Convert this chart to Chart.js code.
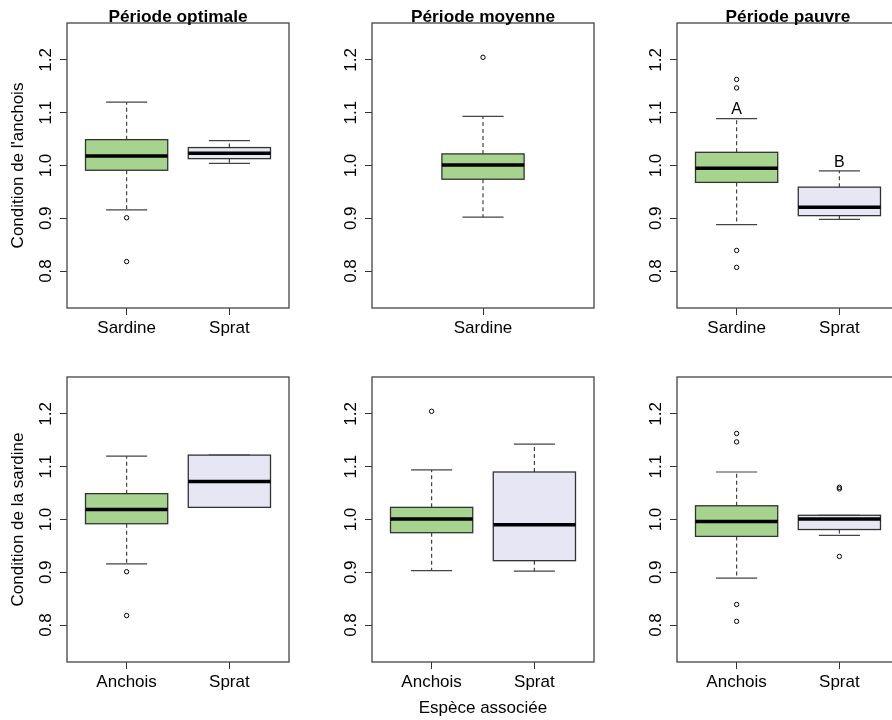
<!DOCTYPE html>
<html><head><meta charset="utf-8">
<script src="https://cdn.jsdelivr.net/npm/chart.js@4/dist/chart.umd.min.js"></script>
<style>
html,body{margin:0;padding:0;background:#fff;}
#wrap{position:relative;width:892px;height:720px;overflow:hidden;background:#fff;}
#wrap canvas{position:absolute;}
</style></head><body><div id="wrap"></div>
<script>
// ---------- data ----------
const periods = ["Période optimale", "Période moyenne", "Période pauvre"];
const rowTitles = ["Condition de l'anchois", "Condition de la sardine"];
const xAxisTitle = "Espèce associée";
const yTicks = [0.8, 0.9, 1.0, 1.1, 1.2];

// Top row: anchovy condition, grouped by associated species  [min, Q1, median, Q3, max]
const ancOptGroups = ["Sardine", "Sprat"];
const ancOptSardine = [0.916, 0.991, 1.018, 1.049, 1.120];
const ancOptSardineOut = [0.901, 0.818];
const ancOptSprat = [1.004, 1.013, 1.023, 1.034, 1.047];
const ancOptSpratOut = [];

const ancMoyGroups = ["Sardine"];
const ancMoySardine = [0.902, 0.974, 1.001, 1.022, 1.093];
const ancMoySardineOut = [1.205];

const ancPauGroups = ["Sardine", "Sprat"];
const ancPauSardine = [0.888, 0.968, 0.995, 1.025, 1.089];
const ancPauSardineOut = [1.163, 1.147, 0.839, 0.807];
const ancPauSprat = [0.898, 0.905, 0.921, 0.959, 0.990];
const ancPauSpratOut = [];
const ancPauLetters = ["A", "B"];
const ancPauLetterY = [1.106, 1.006];

// Bottom row: sardine condition, grouped by associated species
const sarOptGroups = ["Anchois", "Sprat"];
const sarOptAnchois = [0.916, 0.992, 1.019, 1.049, 1.120];
const sarOptAnchoisOut = [0.901, 0.818];
const sarOptSprat = [1.023, 1.023, 1.072, 1.122, 1.122];
const sarOptSpratOut = [];

const sarMoyGroups = ["Anchois", "Sprat"];
const sarMoyAnchois = [0.903, 0.975, 1.001, 1.023, 1.094];
const sarMoyAnchoisOut = [1.205];
const sarMoySprat = [0.902, 0.922, 0.990, 1.090, 1.143];
const sarMoySpratOut = [];

const sarPauGroups = ["Anchois", "Sprat"];
const sarPauAnchois = [0.889, 0.968, 0.996, 1.026, 1.090];
const sarPauAnchoisOut = [1.163, 1.147, 0.839, 0.807];
const sarPauSprat = [0.970, 0.981, 1.001, 1.008, 1.008];
const sarPauSpratOut = [1.061, 1.058, 0.930];

// ---------- styling / layout ----------
const GREEN = "#A6D38D";
const LAVENDER = "#E6E6F5";
const FONT = '"Liberation Sans", Arial, Helvetica, sans-serif';
Chart.defaults.font.family = FONT;
Chart.defaults.color = "#000";

const panels = [
  {row:0, col:0, groups:ancOptGroups, pos:[1,2], stats:[ancOptSardine, ancOptSprat], outs:[ancOptSardineOut, ancOptSpratOut]},
  {row:0, col:1, groups:ancMoyGroups, pos:[1.5], stats:[ancMoySardine], outs:[ancMoySardineOut]},
  {row:0, col:2, groups:ancPauGroups, pos:[1,2], stats:[ancPauSardine, ancPauSprat], outs:[ancPauSardineOut, ancPauSpratOut], letters:ancPauLetters, letterY:ancPauLetterY},
  {row:1, col:0, groups:sarOptGroups, pos:[1,2], stats:[sarOptAnchois, sarOptSprat], outs:[sarOptAnchoisOut, sarOptSpratOut]},
  {row:1, col:1, groups:sarMoyGroups, pos:[1,2], stats:[sarMoyAnchois, sarMoySprat], outs:[sarMoyAnchoisOut, sarMoySpratOut]},
  {row:1, col:2, groups:sarPauGroups, pos:[1,2], stats:[sarPauAnchois, sarPauSprat], outs:[sarPauAnchoisOut, sarPauSpratOut]}
];

const CW = 305, ROWH = 354;
const AREA_LEFT = 67, AREA_TOP = 23, AREA_RIGHT = 289, AREA_BOTTOM = 308;

const boxPlugin = {
  id: 'boxplotDraw',
  beforeDatasetsDraw(chart) {
    const p = chart.options.plugins.boxplotDraw.panel;
    const {ctx, scales:{x, y}} = chart;
    p.stats.forEach((s, i) => {
      const cx = x.getPixelForValue(p.pos[i]);
      const half = (x.getPixelForValue(p.pos[i] + 0.4) - x.getPixelForValue(p.pos[i] - 0.4)) / 2;
      const cap = half / 2;
      const [mn, q1, md, q3, mx] = s.map(v => y.getPixelForValue(v));
      const fill = p.groups[i] === "Sprat" ? LAVENDER : GREEN;
      ctx.save();
      // whiskers
      ctx.strokeStyle = "#444"; ctx.lineWidth = 1.2;
      ctx.setLineDash([4, 3]);
      ctx.beginPath();
      ctx.moveTo(cx, q3); ctx.lineTo(cx, mx);
      ctx.moveTo(cx, q1); ctx.lineTo(cx, mn);
      ctx.stroke();
      ctx.setLineDash([]);
      // caps
      ctx.beginPath();
      ctx.moveTo(cx - cap, mx); ctx.lineTo(cx + cap, mx);
      ctx.moveTo(cx - cap, mn); ctx.lineTo(cx + cap, mn);
      ctx.stroke();
      // box
      ctx.fillStyle = fill;
      ctx.fillRect(cx - half, q3, 2 * half, q1 - q3);
      ctx.strokeStyle = "#333"; ctx.lineWidth = 1.3;
      ctx.strokeRect(cx - half, q3, 2 * half, q1 - q3);
      // median
      ctx.strokeStyle = "#000"; ctx.lineWidth = 3.5;
      ctx.beginPath(); ctx.moveTo(cx - half, md); ctx.lineTo(cx + half, md); ctx.stroke();
      ctx.restore();
    });
  },
  afterDraw(chart) {
    const p = chart.options.plugins.boxplotDraw.panel;
    const {ctx, chartArea:a, scales:{x, y}} = chart;
    ctx.save();
    ctx.strokeStyle = "#444"; ctx.lineWidth = 1.3;
    ctx.strokeRect(a.left, a.top, a.right - a.left, a.bottom - a.top);
    ctx.fillStyle = "#000";
    if (p.row === 0) {
      ctx.font = "bold 17.3px " + FONT;
      ctx.textAlign = "center"; ctx.textBaseline = "alphabetic";
      ctx.fillText(periods[p.col], (a.left + a.right) / 2, a.top - 1.5);
    }
    if (p.letters) {
      ctx.font = "16px " + FONT;
      ctx.textAlign = "center"; ctx.textBaseline = "middle";
      p.letters.forEach((L, i) => ctx.fillText(L, x.getPixelForValue(p.pos[i]), y.getPixelForValue(p.letterY[i])));
    }
    ctx.restore();
  }
};

const wrap = document.getElementById('wrap');
panels.forEach(p => {
  const H = p.row === 0 ? ROWH : 720 - ROWH;
  const cv = document.createElement('canvas');
  cv.width = CW; cv.height = H;
  cv.style.left = (p.col * CW) + 'px';
  cv.style.top = (p.row * ROWH) + 'px';
  cv.style.width = CW + 'px'; cv.style.height = H + 'px';
  wrap.appendChild(cv);
  const outData = [];
  p.outs.forEach((arr, i) => arr.forEach(v => outData.push({x: p.pos[i], y: v})));
  new Chart(cv, {
    type: 'scatter',
    data: { datasets: [{ data: outData, pointRadius: 2.2, pointBorderWidth: 1, pointBorderColor: '#000', pointBackgroundColor: 'rgba(0,0,0,0)', pointHoverRadius: 2.2 }] },
    plugins: [boxPlugin],
    options: {
      responsive: false, animation: false, devicePixelRatio: 1, events: [],
      layout: { padding: { left: 0, top: AREA_TOP, right: CW - AREA_RIGHT, bottom: 0 } },
      plugins: { legend: {display:false}, tooltip: {enabled:false}, title: {display:false}, boxplotDraw: { panel: p } },
      scales: {
        x: {
          type: 'linear', min: 0.42, max: 2.58,
          afterBuildTicks: s => { s.ticks = p.pos.map(v => ({value: v})); },
          afterFit: s => { s.height = H - AREA_BOTTOM; },
          ticks: { callback: (v, i) => p.groups[i], font: {size: 17}, color: '#000', padding: 3, autoSkip: false, maxRotation: 0 },
          grid: { display: true, drawOnChartArea: false, drawTicks: true, tickLength: 7, color: '#333' },
          border: { display: false },
          title: (p.row === 1 && p.col === 1) ? { display: true, text: xAxisTitle, font: {size: 17}, color: '#000', padding: {top: 0, bottom: 1} } : { display: false }
        },
        y: {
          type: 'linear', min: 0.73, max: 1.27,
          afterBuildTicks: s => { s.ticks = yTicks.map(v => ({value: v})); },
          afterFit: s => { s.width = AREA_LEFT; },
          ticks: { callback: v => v.toFixed(1), font: {size: 17}, color: '#000', minRotation: 90, maxRotation: 90, crossAlign: 'center', padding: 2 },
          grid: { display: true, drawOnChartArea: false, drawTicks: true, tickLength: 7, color: '#333' },
          border: { display: false },
          title: p.col === 0 ? { display: true, text: rowTitles[p.row], font: {size: 17}, color: '#000', padding: {top: 7.9, bottom: 0} } : { display: false }
        }
      }
    }
  });
});
</script></body></html>
